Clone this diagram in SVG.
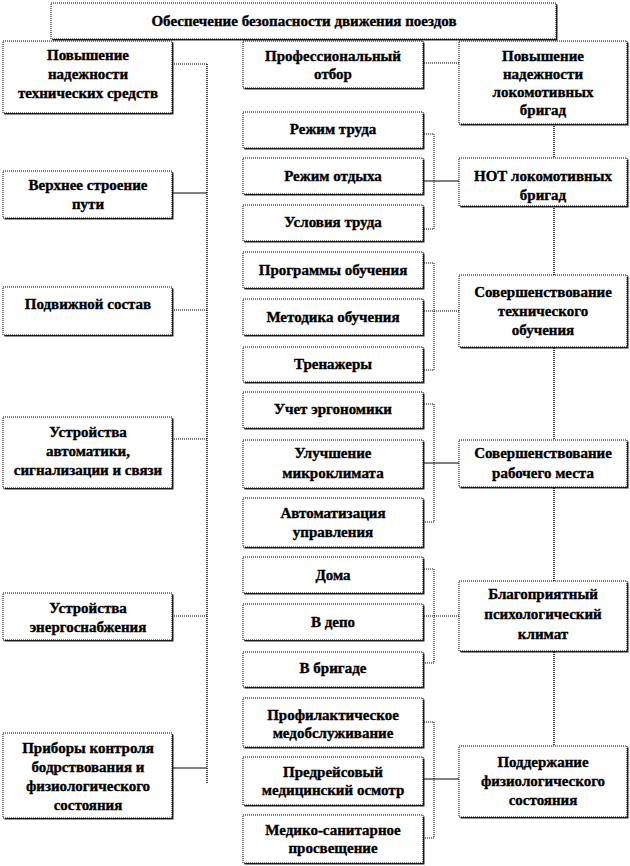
<svg xmlns="http://www.w3.org/2000/svg" width="630" height="866" viewBox="0 0 630 866" font-family="'Liberation Serif', 'DejaVu Serif', serif">
<style>
.sh{fill:#222}
.bx{fill:#fff;stroke:#000;stroke-width:1;stroke-dasharray:1 1}
text{font-family:'Liberation Serif','DejaVu Serif',serif;font-weight:bold;font-size:15px;fill:#000;text-anchor:middle;stroke:#000;stroke-width:0.35}
.bus{fill:none;stroke:#444;stroke-width:2;stroke-dasharray:1 1}
.dot{fill:none;stroke:#000;stroke-width:1;stroke-dasharray:1 1}
.sol{fill:none;stroke:#000;stroke-width:1}
</style>
<rect width="630" height="866" fill="#fff"/>
<g id="connectors">
<line class="bus" x1="207" y1="64" x2="207" y2="784"/>
<line class="bus" x1="554" y1="124" x2="554" y2="746"/>
<line class="dot" x1="172" y1="64" x2="207" y2="64"/>
<line class="sol" x1="172" y1="193" x2="207" y2="193"/>
<line class="dot" x1="172" y1="310" x2="207" y2="310"/>
<line class="dot" x1="172" y1="439" x2="207" y2="439"/>
<line class="dot" x1="172" y1="616" x2="207" y2="616"/>
<line class="sol" x1="172" y1="768" x2="207" y2="768"/>
<line class="dot" x1="424" y1="63" x2="459" y2="63"/>
<polyline class="dot" points="424,134 434,134 434,229 424,229"/>
<line class="sol" x1="424" y1="181" x2="459" y2="181"/>
<polyline class="dot" points="424,263 434,263 434,370 424,370"/>
<line class="dot" x1="424" y1="311" x2="459" y2="311"/>
<polyline class="dot" points="424,404 434,404 434,522 424,522"/>
<line class="sol" x1="424" y1="463" x2="459" y2="463"/>
<polyline class="dot" points="424,569 434,569 434,663 424,663"/>
<line class="dot" x1="424" y1="616" x2="459" y2="616"/>
<polyline class="dot" points="424,722 434,722 434,838 424,838"/>
<line class="sol" x1="424" y1="779" x2="459" y2="779"/>
</g>
<g id="title"><rect class="sh" x="52.5" y="4.5" width="505" height="36"/><rect class="bx" x="51" y="3" width="505" height="36"/><text x="304" y="26">Обеспечение безопасности движения поездов</text></g>
<g id="l1"><rect class="sh" x="4.5" y="42.5" width="169" height="72"/><rect class="bx" x="3" y="41" width="169" height="72"/><text x="88" y="60">Повышение</text><text x="88" y="79">надежности</text><text x="88" y="98">технических средств</text></g>
<g id="l2"><rect class="sh" x="4.5" y="172.5" width="169" height="47"/><rect class="bx" x="3" y="171" width="169" height="47"/><text x="88" y="190">Верхнее строение</text><text x="88" y="209">пути</text></g>
<g id="l3"><rect class="sh" x="4.5" y="288.5" width="169" height="48"/><rect class="bx" x="3" y="287" width="169" height="48"/><text x="88" y="309">Подвижной состав</text></g>
<g id="l4"><rect class="sh" x="4.5" y="418.5" width="169" height="71"/><rect class="bx" x="3" y="417" width="169" height="71"/><text x="88" y="437">Устройства</text><text x="88" y="456">автоматики,</text><text x="88" y="475">сигнализации и связи</text></g>
<g id="l5"><rect class="sh" x="4.5" y="594.5" width="169" height="47"/><rect class="bx" x="3" y="593" width="169" height="47"/><text x="88" y="613">Устройства</text><text x="88" y="632">энергоснабжения</text></g>
<g id="l6"><rect class="sh" x="4.5" y="734.5" width="169" height="85"/><rect class="bx" x="3" y="733" width="169" height="85"/><text x="88" y="753">Приборы контроля</text><text x="88" y="772">бодрствования и</text><text x="88" y="791">физиологического</text><text x="88" y="810">состояния</text></g>
<g id="m0"><rect class="sh" x="244.5" y="42.5" width="180" height="47"/><rect class="bx" x="243" y="41" width="180" height="47"/><text x="333" y="61">Профессиональный</text><text x="333" y="79">отбор</text></g>
<g id="m1"><rect class="sh" x="244.5" y="113.5" width="180" height="36"/><rect class="bx" x="243" y="112" width="180" height="36"/><text x="333" y="134">Режим труда</text></g>
<g id="m2"><rect class="sh" x="244.5" y="159.5" width="180" height="36"/><rect class="bx" x="243" y="158" width="180" height="36"/><text x="333" y="181">Режим отдыха</text></g>
<g id="m3"><rect class="sh" x="244.5" y="206.5" width="180" height="36"/><rect class="bx" x="243" y="205" width="180" height="36"/><text x="333" y="227">Условия труда</text></g>
<g id="m4"><rect class="sh" x="244.5" y="253.5" width="180" height="36"/><rect class="bx" x="243" y="252" width="180" height="36"/><text x="333" y="275">Программы обучения</text></g>
<g id="m5"><rect class="sh" x="244.5" y="300.5" width="180" height="36"/><rect class="bx" x="243" y="299" width="180" height="36"/><text x="333" y="322">Методика обучения</text></g>
<g id="m6"><rect class="sh" x="244.5" y="348.5" width="180" height="35"/><rect class="bx" x="243" y="347" width="180" height="35"/><text x="333" y="369">Тренажеры</text></g>
<g id="m7"><rect class="sh" x="244.5" y="393.5" width="180" height="36"/><rect class="bx" x="243" y="392" width="180" height="36"/><text x="333" y="414">Учет эргономики</text></g>
<g id="m8"><rect class="sh" x="244.5" y="441.5" width="180" height="48"/><rect class="bx" x="243" y="440" width="180" height="48"/><text x="333" y="458">Улучшение</text><text x="333" y="478">микроклимата</text></g>
<g id="m9"><rect class="sh" x="244.5" y="499.5" width="180" height="49"/><rect class="bx" x="243" y="498" width="180" height="49"/><text x="333" y="518">Автоматизация</text><text x="333" y="537">управления</text></g>
<g id="m10"><rect class="sh" x="244.5" y="558.5" width="180" height="36"/><rect class="bx" x="243" y="557" width="180" height="36"/><text x="333" y="580">Дома</text></g>
<g id="m11"><rect class="sh" x="244.5" y="605.5" width="180" height="36"/><rect class="bx" x="243" y="604" width="180" height="36"/><text x="333" y="627">В депо</text></g>
<g id="m12"><rect class="sh" x="244.5" y="653.5" width="180" height="35"/><rect class="bx" x="243" y="652" width="180" height="35"/><text x="333" y="673">В бригаде</text></g>
<g id="m13"><rect class="sh" x="244.5" y="699.5" width="180" height="49"/><rect class="bx" x="243" y="698" width="180" height="49"/><text x="333" y="720">Профилактическое</text><text x="333" y="738">медобслуживание</text></g>
<g id="m14"><rect class="sh" x="244.5" y="758.5" width="180" height="48"/><rect class="bx" x="243" y="757" width="180" height="48"/><text x="333" y="777">Предрейсовый</text><text x="333" y="795">медицинский осмотр</text></g>
<g id="m15"><rect class="sh" x="244.5" y="816.5" width="180" height="48"/><rect class="bx" x="243" y="815" width="180" height="48"/><text x="333" y="835">Медико-санитарное</text><text x="333" y="853">просвещение</text></g>
<g id="r1"><rect class="sh" x="460.5" y="42.5" width="168" height="83"/><rect class="bx" x="459" y="41" width="168" height="83"/><text x="543" y="61">Повышение</text><text x="543" y="79">надежности</text><text x="543" y="97">локомотивных</text><text x="543" y="115">бригад</text></g>
<g id="r2"><rect class="sh" x="460.5" y="159.5" width="168" height="48"/><rect class="bx" x="459" y="158" width="168" height="48"/><text x="543" y="181">НОТ локомотивных</text><text x="543" y="200">бригад</text></g>
<g id="r3"><rect class="sh" x="460.5" y="276.5" width="168" height="72"/><rect class="bx" x="459" y="275" width="168" height="72"/><text x="543" y="297">Совершенствование</text><text x="543" y="316">технического</text><text x="543" y="335">обучения</text></g>
<g id="r4"><rect class="sh" x="460.5" y="441.5" width="168" height="47"/><rect class="bx" x="459" y="440" width="168" height="47"/><text x="543" y="458">Совершенствование</text><text x="543" y="478">рабочего места</text></g>
<g id="r5"><rect class="sh" x="460.5" y="582.5" width="168" height="70"/><rect class="bx" x="459" y="581" width="168" height="70"/><text x="543" y="599">Благоприятный</text><text x="543" y="619">психологический</text><text x="543" y="639">климат</text></g>
<g id="r6"><rect class="sh" x="460.5" y="747.5" width="168" height="71"/><rect class="bx" x="459" y="746" width="168" height="71"/><text x="543" y="767">Поддержание</text><text x="543" y="786">физиологического</text><text x="543" y="805">состояния</text></g>
</svg>
